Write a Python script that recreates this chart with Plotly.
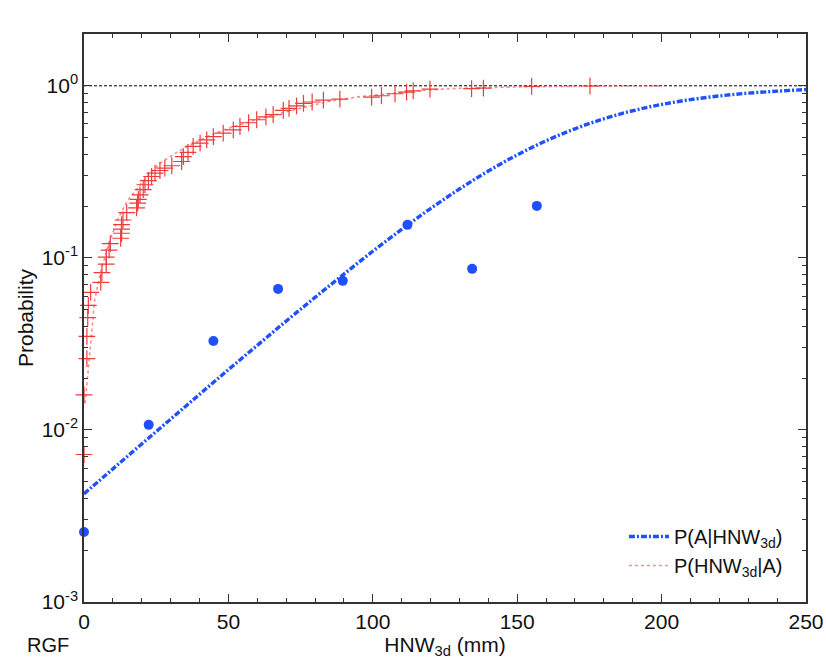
import plotly.graph_objects as go

# Observed P(A|HNW3d) points
obs_x = [0, 22.4, 44.8, 67.2, 89.6, 112, 134.4, 156.8]
obs_y = [0.00255, 0.0107, 0.0329, 0.066, 0.0735, 0.1555, 0.0863, 0.2005]

# Fitted P(A|HNW3d) curve
fitA_x = [0, 10, 20, 30, 40, 50, 60, 70, 80, 90, 100, 110, 120, 130, 140, 150,
          160, 170, 180, 190, 200, 210, 220, 230, 240, 250]
fitA_y = [0.00425, 0.00594, 0.00829, 0.01155, 0.0161, 0.0224, 0.0310, 0.0429,
          0.0589, 0.0805, 0.1092, 0.1464, 0.1935, 0.2513, 0.3196, 0.3965, 0.479,
          0.5625, 0.643, 0.716, 0.779, 0.831, 0.873, 0.906, 0.931, 0.950]

# Empirical P(HNW3d|A) crosses
emp_x = [0, 0, 1, 1, 1.3, 1.5, 2.3, 5.8, 6.2, 7.7, 7.7, 8.7, 9.1, 12.7, 13.0, 13.0,
         13.0, 13.5, 14.8, 18.2, 18.6, 18.8, 19.4, 20.5, 21.1, 22.3, 23.4, 24.6,
         26.3, 28.0, 30.4, 33.8, 34.4, 36, 37.8, 40.2, 42.5, 44.8, 48.2, 51.7,
         54.0, 57, 59.8, 63, 65.5, 69.0, 71, 73.6, 76, 79, 82.9, 88.6, 99.6, 103,
         107.7, 111.7, 114, 119.8, 134.2, 138.3, 155, 175.2]
emp_y = [0.0072, 0.016, 0.026, 0.035, 0.045, 0.053, 0.063, 0.072, 0.082, 0.092,
         0.101, 0.111, 0.121, 0.130, 0.139, 0.147, 0.156, 0.166, 0.183, 0.195,
         0.208, 0.219, 0.232, 0.249, 0.266, 0.281, 0.297, 0.311, 0.322, 0.332,
         0.343, 0.363, 0.388, 0.41, 0.444, 0.464, 0.485, 0.507, 0.531, 0.555,
         0.580, 0.61, 0.635, 0.66, 0.68, 0.72, 0.74, 0.765, 0.79, 0.805, 0.825,
         0.837, 0.859, 0.875, 0.899, 0.919, 0.935, 0.957, 0.962, 0.970, 0.991,
         0.997]

# Fitted P(HNW3d|A) curve
fitH_x = [0.4, 1.4, 2.5, 3.7, 6, 9, 11.9, 14.8, 20.5, 26.3, 32.1, 37.8, 43.6, 49.4,
          60.9, 72.5, 84, 95.6, 107, 118.7, 130, 150, 175, 200]
fitH_y = [0.0143, 0.0214, 0.0365, 0.057, 0.086, 0.127, 0.170, 0.212, 0.28, 0.355,
          0.41, 0.462, 0.515, 0.562, 0.645, 0.722, 0.808, 0.865, 0.905, 0.945,
          0.967, 0.985, 0.995, 0.999]

ref_level = 1.0
x_range = [0, 250]

y_tickvals = [0.001, 0.01, 0.1, 1]
y_ticktext = ["10<sup>-3</sup>", "10<sup>-2</sup>", "10<sup>-1</sup>", "10<sup>0</sup>"]
y_minor = [m * 10 ** e for e in (-3, -2, -1, 0) for m in range(2, 10) if m * 10 ** e < 2.0]

FONT = "Liberation Sans, Arial, sans-serif"
AX = "#333333"

fig = go.Figure()

fig.add_trace(go.Scatter(x=x_range, y=[ref_level, ref_level], mode="lines",
                         line=dict(color="black", width=1, dash="3px,2px"),
                         showlegend=False, hoverinfo="skip"))

fig.add_trace(go.Scatter(x=fitH_x, y=fitH_y, mode="lines",
                         line=dict(color="rgba(255,90,90,0.7)", width=1.6, dash="dot"),
                         name="P(HNW<sub>3d</sub>|A)", legendrank=2))

fig.add_trace(go.Scatter(x=emp_x, y=emp_y, mode="markers",
                         marker=dict(symbol="cross-thin", size=12,
                                     line=dict(color="#ee3b3b", width=1.2)),
                         showlegend=False, cliponaxis=False))

fig.add_trace(go.Scatter(x=fitA_x, y=fitA_y, mode="lines", line_shape="spline",
                         line=dict(color="#2150ff", width=3.4, dash="6px,2px,2px,2px"),
                         name="P(A|HNW<sub>3d</sub>)", legendrank=1))

fig.add_trace(go.Scatter(x=obs_x, y=obs_y, mode="markers",
                         marker=dict(color="#1f4fff", size=10),
                         showlegend=False, cliponaxis=False))

fig.update_layout(
    width=826, height=662,
    margin=dict(l=84, r=20, t=34, b=60),
    paper_bgcolor="white", plot_bgcolor="white",
    font=dict(family=FONT, size=21, color="#111111"),
    legend=dict(x=0.975, y=0.03, xanchor="right", yanchor="bottom",
                bgcolor="rgba(0,0,0,0)", font=dict(size=20), tracegroupgap=0,
                itemwidth=40),
    xaxis=dict(range=x_range, tickvals=[0, 50, 100, 150, 200, 250], automargin=False,
               ticks="inside", ticklen=8, tickwidth=1.3, tickcolor=AX,
               showline=True, linecolor=AX, linewidth=1.5, mirror="allticks",
               showgrid=False, zeroline=False, tickfont=dict(size=21),
               minor=dict(tickvals=[v for v in range(10, 250, 10) if v % 50], ticks="inside",
                          ticklen=4, tickwidth=1.2, tickcolor=AX, showgrid=False),
               title=dict(text="HNW<sub>3d</sub> (mm)", font=dict(size=21), standoff=4)),
    yaxis=dict(type="log", range=[-3, 0.301], tickvals=y_tickvals, ticktext=y_ticktext,
               automargin=False,
               ticks="inside", ticklen=8, tickwidth=1.3, tickcolor=AX,
               showline=True, linecolor=AX, linewidth=1.5, mirror="allticks",
               showgrid=False, zeroline=False, tickfont=dict(size=21),
               minor=dict(tickvals=y_minor, ticks="inside", ticklen=4, tickwidth=1.2,
                          tickcolor=AX, showgrid=False),
               title=dict(text="Probability", font=dict(size=21), standoff=2)),
    annotations=[dict(text="RGF", xref="paper", yref="paper", x=-0.05, y=-0.075,
                      xanchor="center", yanchor="middle", showarrow=False,
                      font=dict(size=20))],
)

fig.write_html("out.html")
